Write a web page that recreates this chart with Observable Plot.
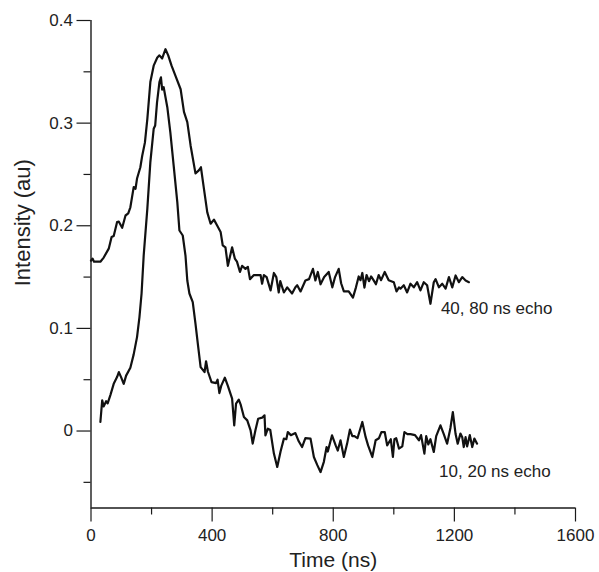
<!DOCTYPE html>
<html>
<head>
<meta charset="utf-8">
<script src="https://cdn.jsdelivr.net/npm/d3@7"></script>
<script src="https://cdn.jsdelivr.net/npm/@observablehq/plot@0.6"></script>
<style>
  html, body { margin: 0; padding: 0; background: #fff; }
  #chart svg { display: block; }
</style>
</head>
<body>
<div id="chart"></div>
<script>
// 40, 80 ns echo
const upperTime = [0,5,10,31,42,59,68,75,86,92,103,114,123,130,141,147,152,163,169,178,186,196,207,219,226,235,246,255,266,279,296,307,318,329,345,356,363,373,384,395,406,417,428,435,444,452,466,475,482,492,499,510,518,525,538,560,565,571,580,593,604,612,620,625,637,648,664,675,681,692,708,720,733,741,749,758,770,785,797,806,818,826,835,851,865,875,884,890,896,903,910,918,925,933,941,950,958,970,983,1000,1009,1017,1022,1033,1044,1055,1066,1077,1088,1099,1110,1121,1132,1138,1149,1160,1171,1182,1193,1204,1215,1226,1237,1248];
const upperValue = [0.166,0.168,0.165,0.165,0.169,0.178,0.189,0.190,0.2035,0.204,0.198,0.210,0.212,0.218,0.2376,0.236,0.246,0.257,0.268,0.281,0.304,0.340,0.356,0.364,0.366,0.363,0.372,0.366,0.356,0.346,0.333,0.311,0.301,0.278,0.251,0.254,0.257,0.236,0.213,0.202,0.206,0.200,0.194,0.181,0.179,0.161,0.179,0.168,0.165,0.155,0.161,0.158,0.160,0.148,0.152,0.152,0.1435,0.152,0.150,0.137,0.154,0.150,0.135,0.146,0.135,0.140,0.134,0.140,0.142,0.136,0.1467,0.148,0.158,0.1467,0.155,0.143,0.150,0.155,0.140,0.150,0.158,0.144,0.136,0.136,0.130,0.140,0.1506,0.147,0.154,0.1397,0.152,0.146,0.1506,0.147,0.143,0.152,0.147,0.155,0.147,0.145,0.136,0.140,0.1387,0.142,0.135,0.1435,0.140,0.145,0.137,0.145,0.142,0.124,0.145,0.148,0.140,0.1435,0.1387,0.150,0.140,0.1516,0.145,0.150,0.1467,0.145];

// 10, 20 ns echo
const lowerTime = [31,37,42,50,55,64,75,86,92,100,108,116,130,141,152,160,167,174,186,196,207,212,218,226,231,235,240,252,262,273,285,292,303,312,318,325,336,345,354,362,368,375,380,386,398,413,418,424,430,442,452,466,473,479,488,494,505,516,527,534,543,552,565,573,576,584,592,604,615,626,637,645,650,660,675,686,697,708,725,736,747,758,769,778,782,796,808,815,824,835,846,855,863,870,880,896,907,915,929,940,951,959,970,978,990,997,1002,1008,1017,1028,1035,1045,1055,1070,1083,1090,1101,1107,1114,1121,1132,1140,1154,1165,1176,1187,1195,1204,1211,1220,1226,1231,1237,1242,1251,1259,1266,1275];
const lowerValue = [0.0088,0.030,0.024,0.029,0.027,0.035,0.046,0.0526,0.0574,0.052,0.046,0.054,0.0617,0.0747,0.0915,0.111,0.134,0.171,0.2165,0.262,0.2945,0.2977,0.320,0.340,0.3447,0.3327,0.335,0.3155,0.291,0.2587,0.223,0.1954,0.1905,0.171,0.1467,0.134,0.1256,0.1046,0.082,0.0623,0.060,0.0574,0.068,0.058,0.0477,0.0467,0.050,0.037,0.044,0.052,0.044,0.0315,0.0055,0.0267,0.0306,0.026,0.0136,0.0104,0.0007,-0.0123,0.0007,0.012,0.013,0.0153,-0.0042,0.0023,0.001,-0.022,-0.035,-0.020,-0.0074,-0.008,-0.001,-0.004,-0.002,-0.010,-0.0156,-0.007,-0.0074,-0.0253,-0.033,-0.040,-0.030,-0.0156,-0.020,-0.0042,-0.014,-0.019,-0.009,-0.0253,-0.012,0.0014,-0.005,-0.005,-0.007,0.0088,-0.006,-0.014,-0.0253,-0.009,-0.007,-0.001,-0.001,-0.014,-0.008,-0.0253,-0.008,-0.007,-0.0171,-0.015,-0.001,-0.003,-0.003,-0.004,-0.009,-0.004,-0.022,-0.005,-0.013,-0.008,-0.0204,-0.005,0.0055,-0.003,-0.0123,0.003,0.0185,-0.003,-0.0123,-0.0025,-0.006,-0.0156,-0.006,-0.015,-0.004,-0.0156,-0.0074,-0.0123];

const seriesNames = ["40, 80 ns echo", "10, 20 ns echo"];
const xMajorTicks = [0, 400, 800, 1200, 1600];
const xMinorTicks = [200, 600, 1000, 1400];
const yMajorTicks = [0, 0.1, 0.2, 0.3, 0.4];
const yMinorTicks = [-0.05, 0.05, 0.15, 0.25, 0.35];
const xTitle = "Time (ns)";
const yTitle = "Intensity (au)";

const upper = upperTime.map((t, i) => ({t, v: upperValue[i]}));
const lower = lowerTime.map((t, i) => ({t, v: lowerValue[i]}));
const ends = [
  {...upper[upper.length - 1], name: seriesNames[0], dx: -28, dy: 26},
  {...lower[lower.length - 1], name: seriesNames[1], dx: -38, dy: 28}
];

const ink = "#1a1a1a";
const font = "'Liberation Sans', Arial, sans-serif";

const chart = Plot.plot({
  width: 599,
  height: 572,
  marginLeft: 90.5,
  marginRight: 24,
  marginTop: 20,
  marginBottom: 64.5,
  style: {fontFamily: font, background: "#fff", color: "#222"},
  x: {domain: [0, 1600], axis: null},
  y: {domain: [-0.075, 0.4], axis: null},
  marks: [
    Plot.axisX(xMajorTicks, {anchor: "bottom", tickSize: 14, tickPadding: 7, fontSize: 17, stroke: ink, strokeWidth: 1.2, label: null, tickFormat: d => String(d)}),
    Plot.axisX(xMinorTicks, {anchor: "bottom", tickSize: 7, stroke: ink, strokeWidth: 1.2, label: null, tickFormat: () => ""}),
    Plot.axisY(yMajorTicks, {anchor: "left", tickSize: 14, tickPadding: 4, fontSize: 17, stroke: ink, strokeWidth: 1.2, label: null, tickFormat: d => d === 0 ? "0" : d.toFixed(1)}),
    Plot.axisY(yMinorTicks, {anchor: "left", tickSize: 7, stroke: ink, strokeWidth: 1.2, label: null, tickFormat: () => ""}),
    Plot.ruleX([0], {stroke: ink, strokeWidth: 1.4}),
    Plot.ruleY([-0.075], {stroke: ink, strokeWidth: 1.4}),
    Plot.line(upper, {x: "t", y: "v", stroke: "#111", strokeWidth: 2.2, strokeLinejoin: "round"}),
    Plot.line(lower, {x: "t", y: "v", stroke: "#111", strokeWidth: 2.2, strokeLinejoin: "round"}),
    Plot.text([ends[0]], {x: "t", y: "v", text: "name", textAnchor: "start", dx: ends[0].dx, dy: ends[0].dy, fontSize: 17, fill: "#222"}),
    Plot.text([ends[1]], {x: "t", y: "v", text: "name", textAnchor: "start", dx: ends[1].dx, dy: ends[1].dy, fontSize: 17, fill: "#222"}),
    Plot.text([xTitle], {frameAnchor: "bottom", dy: 52.5, fontSize: 21, fill: "#222", lineAnchor: "middle"}),
    Plot.text([yTitle], {frameAnchor: "left", rotate: -90, dx: -68, dy: 22, fontSize: 22, fill: "#222", lineAnchor: "middle"})
  ]
});
document.getElementById("chart").appendChild(chart);
</script>
</body>
</html>
